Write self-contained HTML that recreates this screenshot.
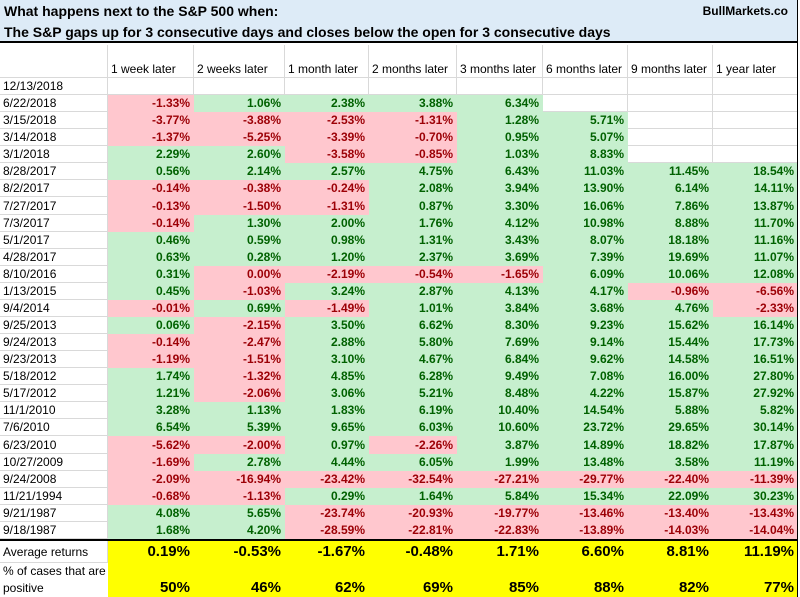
<!DOCTYPE html>
<html><head><meta charset="utf-8">
<style>
body{margin:0;width:800px;height:597px;overflow:hidden;background:#fff;font-family:"Liberation Sans",Arial,sans-serif;}
#wrap{position:relative;width:800px;height:597px;}
.c{position:absolute;box-sizing:border-box;white-space:nowrap;overflow:hidden;}
.title{position:absolute;left:0;width:800px;background:#DDEBF7;font-weight:bold;font-size:14px;color:#000;box-sizing:border-box;padding-left:4px;}
</style></head>
<body>
<div id="wrap">
<div class="title" style="top:0;height:22px;line-height:22px;">What happens next to the S&amp;P 500 when:<span style="position:absolute;right:12px;font-size:12px;">BullMarkets.co</span></div>
<div class="title" style="top:22px;height:21px;line-height:20px;border-bottom:2px solid #000;">The S&amp;P gaps up for 3 consecutive days and closes below the open for 3 consecutive days</div>
</div>
<script>
const columns=["1 week later","2 weeks later","1 month later","2 months later","3 months later","6 months later","9 months later","1 year later"];
const dates=["12/13/2018","6/22/2018","3/15/2018","3/14/2018","3/1/2018","8/28/2017","8/2/2017","7/27/2017","7/3/2017","5/1/2017","4/28/2017","8/10/2016","1/13/2015","9/4/2014","9/25/2013","9/24/2013","9/23/2013","5/18/2012","5/17/2012","11/1/2010","7/6/2010","6/23/2010","10/27/2009","9/24/2008","11/21/1994","9/21/1987","9/18/1987"];
const week1=[null,-1.33,-3.77,-1.37,2.29,0.56,-0.14,-0.13,-0.14,0.46,0.63,0.31,0.45,-0.01,0.06,-0.14,-1.19,1.74,1.21,3.28,6.54,-5.62,-1.69,-2.09,-0.68,4.08,1.68];
const week2=[null,1.06,-3.88,-5.25,2.60,2.14,-0.38,-1.50,1.30,0.59,0.28,0.00,-1.03,0.69,-2.15,-2.47,-1.51,-1.32,-2.06,1.13,5.39,-2.00,2.78,-16.94,-1.13,5.65,4.20];
const month1=[null,2.38,-2.53,-3.39,-3.58,2.57,-0.24,-1.31,2.00,0.98,1.20,-2.19,3.24,-1.49,3.50,2.88,3.10,4.85,3.06,1.83,9.65,0.97,4.44,-23.42,0.29,-23.74,-28.59];
const month2=[null,3.88,-1.31,-0.70,-0.85,4.75,2.08,0.87,1.76,1.31,2.37,-0.54,2.87,1.01,6.62,5.80,4.67,6.28,5.21,6.19,6.03,-2.26,6.05,-32.54,1.64,-20.93,-22.81];
const month3=[null,6.34,1.28,0.95,1.03,6.43,3.94,3.30,4.12,3.43,3.69,-1.65,4.13,3.84,8.30,7.69,6.84,9.49,8.48,10.40,10.60,3.87,1.99,-27.21,5.84,-19.77,-22.83];
const month6=[null,null,5.71,5.07,8.83,11.03,13.90,16.06,10.98,8.07,7.39,6.09,4.17,3.68,9.23,9.14,9.62,7.08,4.22,14.54,23.72,14.89,13.48,-29.77,15.34,-13.46,-13.89];
const month9=[null,null,null,null,null,11.45,6.14,7.86,8.88,18.18,19.69,10.06,-0.96,4.76,15.62,15.44,14.58,16.00,15.87,5.88,29.65,18.82,3.58,-22.40,22.09,-13.40,-14.03];
const year1=[null,null,null,null,null,18.54,14.11,13.87,11.70,11.16,11.07,12.08,-6.56,-2.33,16.14,17.73,16.51,27.80,27.92,5.82,30.14,17.87,11.19,-11.39,30.23,-13.43,-14.04];
const averages=[0.19,-0.53,-1.67,-0.48,1.71,6.60,8.81,11.19];
const pctPositive=[50,46,62,69,85,88,82,77];

const series=[week1,week2,month1,month2,month3,month6,month9,year1];
const colW=[108,86,91,84,88,86,85,85,85];
const colX=[0];for(let i=0;i<colW.length;i++)colX.push(colX[i]+colW[i]);
const wrap=document.getElementById('wrap');
function cell(x,y,w,h,txt,st){
  const d=document.createElement('div');d.className='c';
  d.style.cssText=`left:${x}px;top:${y}px;width:${w}px;height:${h}px;`+st;
  d.textContent=txt;wrap.appendChild(d);return d;
}
const grid='border-right:1px solid #d9d9d9;border-bottom:1px solid #d9d9d9;';
let e=cell(0,45,colW[0],33,'',grid);


columns.forEach((c,i)=>{
  const h=cell(colX[i+1],45,colW[i+1],33,c,grid+'font-size:12px;line-height:14px;padding:17px 0 0 3px;color:#000;');
  
  
});
const top0=78,rh=17.07;
dates.forEach((dt,r)=>{
  const y=Math.round(top0+r*rh),h=Math.round(top0+(r+1)*rh)-y;
  const dc=cell(0,y,colW[0],h,dt,grid+`font-size:12px;line-height:${h}px;padding-left:3px;color:#000;`);
  
  
  series.forEach((s,i)=>{
    const v=s[r];
    let st,txt='';
    if(v===null){st=grid;}
    else{
      const pos=v>0;
      st=`background:${pos?'#C6EFCE':'#FFC7CE'};color:${pos?'#006100':'#9C0006'};font-weight:bold;font-size:12px;text-align:right;padding-right:4px;line-height:${h}px;`;
      txt=v.toFixed(2)+'%';
    }
    const c=cell(colX[i+1],y,colW[i+1],h,txt,st);
    
    
  });
});
const sep=cell(0,539,800,2,'','background:#000;');


let l1=cell(0,541,colW[0],22,'Average returns',grid+'font-size:12px;line-height:22px;padding-left:3px;');


let l2=cell(0,563,colW[0],34,'% of cases that are positive','font-size:12px;line-height:17px;padding-left:3px;white-space:normal;');


averages.forEach((v,i)=>{
  const c=cell(colX[i+1],541,colW[i+1],22,v.toFixed(2)+'%','background:#FFFF00;font-weight:bold;font-size:15px;text-align:right;padding-right:4px;line-height:22px;');
  
  
});
pctPositive.forEach((v,i)=>{
  const c=cell(colX[i+1],563,colW[i+1],34,v+'%','background:#FFFF00;font-weight:bold;font-size:15px;text-align:right;padding-right:4px;line-height:18px;padding-top:16px;');
  
  
});
const rb=cell(797,0,3,597,'','background:#fff;border-left:1px solid #000;');


</script>
</body></html>
